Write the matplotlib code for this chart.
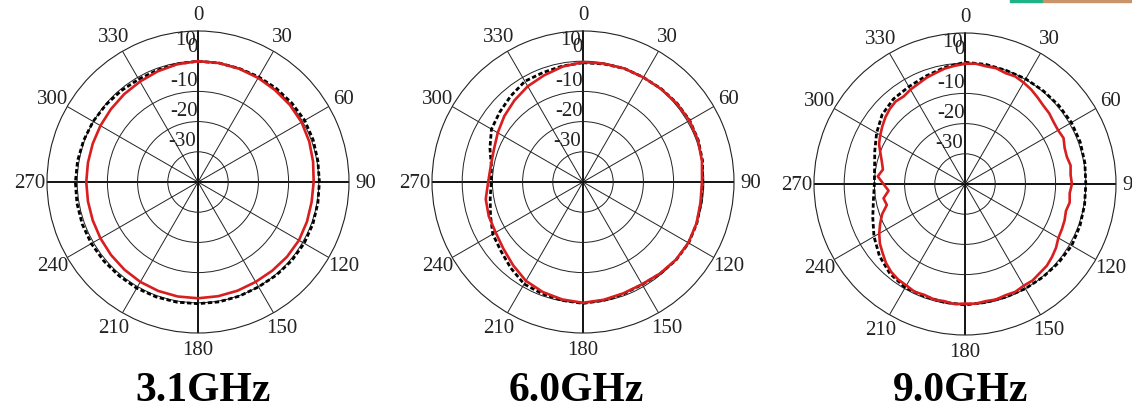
import numpy as np
import matplotlib
matplotlib.use("Agg")
from matplotlib import pyplot as plt
from matplotlib.patches import Rectangle

plt.rcParams['font.family'] = ['Liberation Serif', 'DejaVu Serif']

# sampling angles (degrees)
ang10 = list(range(0, 360, 10))
ang5 = list(range(0, 360, 5))

titles = ["3.1GHz", "6.0GHz", "9.0GHz"]

# 3.1 GHz, dB
f31_black = [0.0, 0.0, 0.0, 0.2, 0.4, 0.6, 0.8, 0.6, 0.3, 0.2, 0.3, 0.5,
             0.6, 0.5, 0.3, 0.1, 0.2, 0.3, 0.3, 0.4, 0.5, 0.6, 0.6, 0.7,
             0.8, 0.8, 0.7, 0.6, 0.5, 0.3, 0.1, -0.2, -0.5, -0.7, -0.6, -0.3]
f31_red = [0.0, 0.0, -0.1, -0.2, -0.3, -0.3, -0.4, -0.8, -1.3, -1.7, -1.8, -1.6,
           -1.4, -1.5, -1.7, -1.8, -1.7, -1.6, -1.5, -1.5, -1.6, -1.8, -2.1, -2.4,
           -2.7, -2.9, -3.0, -3.0, -3.0, -2.9, -2.7, -2.4, -2.0, -1.6, -1.0, -0.4]

# 6.0 GHz, dB
f60_black = [-0.5, -0.3, 0.0, 0.0, 0.3, 0.6, 0.8, 0.6, 0.2, -0.4, -0.3, 0.1,
             0.4, 0.2, -0.3, -0.8, -0.6, -0.2, 0.2, -0.2, -0.6, -1.0, -2.8, -4.5,
             -5.5, -7.4, -8.8, -9.6, -9.2, -7.2, -5.0, -4.0, -2.8, -1.5, -1.4, -1.0]
f60_red = [-0.3, -0.2, 0.0, 0.0, 0.2, 0.5, 0.7, 0.5, 0.0, -0.6, -0.5, 0.0,
           0.3, 0.1, -0.4, -0.9, -0.8, -0.4, 0.0, -0.5, -1.2, -2.2, -4.0, -5.6,
           -6.6, -6.8, -7.3, -8.6, -9.0, -8.6, -7.4, -6.0, -4.7, -3.4, -2.4, -1.2]

# 9.0 GHz, dB
f90_black = [0.3, 0.2, 0.0, 0.2, 0.3, 0.5, 0.7, 0.6, 0.3, 0.0, 0.2, 0.5,
             0.8, 0.5, 0.2, 0.0, -0.2, -0.2, 0.0, -0.2, -0.5, -0.4, -1.3, -3.0,
             -5.2, -7.5, -9.2, -10.0, -9.6, -8.2, -6.2, -4.2, -3.2, -2.8, -2.0, -0.8]
f90_red = [-0.2, 0.0, -0.4, -0.3, -0.9, -0.7, -1.2, -1.8, -2.6, -3.3, -3.6, -4.2,
           -4.4, -4.0, -4.9, -5.1, -4.5, -4.9, -4.6, -5.2, -4.8, -5.4, -4.9, -4.6,
           -4.3, -3.2, -2.4, -1.7, -1.5, -1.0, -1.1, -0.6, -0.8, -0.4, -0.6, -0.2,
           -0.4, -0.1, -0.6, -0.4, -0.9, -0.6, -1.2, -1.4, -2.0, -3.0, -4.4, -5.6,
           -7.2, -9.0, -10.8, -13.2, -12.6, -14.6, -13.0, -11.0, -12.4, -11.5, -10.2, -8.6,
           -7.6, -6.6, -5.6, -4.8, -4.3, -4.6, -3.9, -3.4, -2.6, -2.0, -1.2, -0.7]

black_sets = [(ang10, f31_black), (ang10, f60_black), (ang10, f90_black)]
red_sets = [(ang10, f31_red), (ang10, f60_red), (ang5, f90_red)]

rticks = [-30, -20, -10, 0, 10]
tgrid = list(range(0, 360, 30))


def closed(a, v):
    th = np.deg2rad(np.append(a, a[0]))
    return th, np.append(v, v[0])


W, H = 1132, 410
fig = plt.figure(figsize=(W / 100, H / 100), dpi=100)

centers = [(198, 183), (583, 183), (965, 185)]
title_x = [203, 576, 961]
R = 151

# label offsets in pixels (from the ring point on the 0 deg axis)
rlab_off = {10: (-12, -8), 0: (-6, 15), -10: (-14, 11), -20: (-14, 11), -30: (-16, 11)}

for k in range(3):
    cx, cy = centers[k]
    ax = fig.add_axes([(cx - R) / W, (H - cy - R) / H, 2 * R / W, 2 * R / H],
                      projection='polar')
    ax.set_theta_zero_location('N')
    ax.set_theta_direction(-1)
    ax.set_ylim(-40, 10)
    ax.set_yticks([-30, -20, -10, 0])
    ax.set_yticklabels([])
    ax.set_xticks(np.deg2rad(tgrid))
    ax.set_xticklabels([])
    ax.tick_params(length=0)
    ax.grid(True, color='#222222', linewidth=0.7)
    for i, gl in enumerate(ax.xaxis.get_gridlines()):
        if i % 3 == 0:
            gl.set_linewidth(1.3)
            gl.set_color('black')
    ax.spines['polar'].set_linewidth(0.8)
    ax.spines['polar'].set_color('#222222')

    a, v = black_sets[k]
    th, r = closed(a, v)
    ax.plot(th, r, color='black', linestyle=(0, (1.6, 0.9)), linewidth=2.0, zorder=3)
    a, v = red_sets[k]
    th, r = closed(a, v)
    ax.plot(th, r, color='#d81e1e', linewidth=1.9, zorder=4)

    for t in tgrid:
        ax.text(np.deg2rad(t), 15.6, str(t), ha='center', va='center',
                fontsize=15, color='#222222', clip_on=False)
    for rv in rticks:
        dx, dy = rlab_off[rv]
        ax.annotate(str(rv), xy=(0, rv), xytext=(dx, dy), textcoords='offset pixels',
                    ha='center', va='center', fontsize=15, color='#222222',
                    annotation_clip=False)

    fig.text(title_x[k] / W, 1 - 391 / H, titles[k], ha='center', va='center',
             fontsize=30, fontweight='bold')

# small coloured strip at the top right edge
fig.patches.append(Rectangle((1010 / W, 1 - 3 / H), 33 / W, 3 / H,
                             transform=fig.transFigure, color='#1db386'))
fig.patches.append(Rectangle((1043 / W, 1 - 3 / H), 89 / W, 3 / H,
                             transform=fig.transFigure, color='#c99468'))

fig.savefig('out.png', dpi=100)
